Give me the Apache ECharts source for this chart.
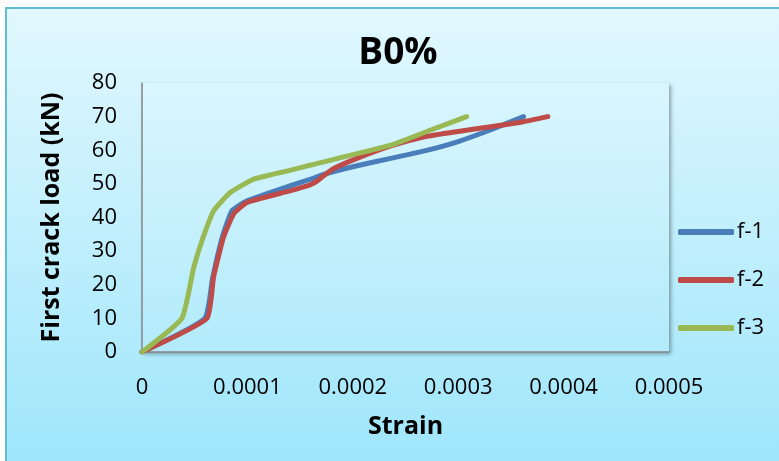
<!DOCTYPE html>
<html>
<head>
<meta charset="utf-8">
<script src="https://cdn.jsdelivr.net/npm/echarts@6/dist/echarts.min.js"></script>
<style>
  html, body { margin: 0; padding: 0; background: #ffffff; }
  #chart { width: 779px; height: 461px; }
</style>
</head>
<body>
<div id="chart"></div>
<script>
// Load (kN) against strain for the three B0% specimens
const seriesNames = ['f-1', 'f-2', 'f-3'];

const strainF1 = [0, 0.0000595, 0.0000670, 0.0000765, 0.0000854, 0.0000997, 0.000141, 0.000160, 0.000173, 0.000204, 0.000236, 0.000268, 0.000300, 0.000331, 0.000362];
const loadF1   = [0, 10,        22,        34.5,      42,        45,        49.5,     51.4,     52.9,     55.4,     57.6,     59.8,     62.6,     66.1,     70];

const strainF2 = [0, 0.0000616, 0.0000679, 0.0000774, 0.0000870, 0.0000997, 0.000141, 0.000160, 0.000166, 0.000173, 0.000182, 0.000204, 0.000236, 0.000268, 0.000300, 0.000331, 0.000362, 0.000385];
const loadF2   = [0, 10,        22.3,      34.2,      41.1,      44.5,      48,       49.8,     50.8,     52.6,     54.6,     57.6,     61.3,     64,       65.6,     67,       68.5,     70];

const strainF3 = [0, 0.0000378, 0.0000490, 0.0000568, 0.0000680, 0.0000840, 0.000106, 0.000141, 0.000160, 0.000236, 0.000272, 0.000308];
const loadF3   = [0, 10,        25,        33,        42,        47.5,      51.4,     54.1,     55.6,     61.5,     65.8,     70];

const xTicks = { min: 0, max: 0.0005, step: 0.0001 };
const yTicks = { min: 0, max: 80, step: 10 };

const lineColors = ['#4A7EBB', '#BE4B48', '#98B954'];

function pairs(xs, ys) {
  return xs.map((x, i) => [x, ys[i]]);
}

const seriesData = [pairs(strainF1, loadF1), pairs(strainF2, loadF2), pairs(strainF3, loadF3)];

const font = '"Open Sans", "Liberation Sans", sans-serif';

const chart = echarts.init(document.getElementById('chart'), null, { renderer: 'canvas' });

chart.setOption({
  backgroundColor: '#ffffff',
  animation: false,
  graphic: [
    {
      type: 'rect',
      z: -100,
      silent: true,
      shape: { x: 6, y: 8, width: 790, height: 470 },
      style: {
        fill: {
          type: 'linear', x: 0, y: 0, x2: 0, y2: 1,
          colorStops: [
            { offset: 0, color: '#E2F8FE' },
            { offset: 1, color: '#9CE5FB' }
          ]
        },
        stroke: '#5FBCD3',
        lineWidth: 2
      }
    }
  ],
  title: {
    text: 'B0%',
    left: 393,
    top: 30,
    textAlign: 'center',
    textStyle: { fontFamily: font, fontWeight: 'bold', fontSize: 37, color: '#000000' }
  },
  legend: {
    orient: 'vertical',
    left: 673,
    top: 216,
    itemWidth: 56,
    itemHeight: 6,
    itemGap: 26,
    icon: 'roundRect',
    data: seriesNames,
    textStyle: { fontFamily: font, fontSize: 22, color: '#000000', padding: [0, 0, 0, -2] }
  },
  grid: {
    left: 142,
    top: 83,
    right: 110,
    bottom: 109,
    show: true,
    borderWidth: 0,
    backgroundColor: {
      type: 'linear', x: 0, y: 0, x2: 0, y2: 1,
      colorStops: [
        { offset: 0, color: '#DAF6FE' },
        { offset: 1, color: '#B2EBFB' }
      ]
    },
    shadowColor: 'rgba(0, 0, 0, 0.35)',
    shadowBlur: 4,
    shadowOffsetX: 2,
    shadowOffsetY: 2
  },
  xAxis: {
    type: 'value',
    min: xTicks.min,
    max: xTicks.max,
    interval: xTicks.step,
    name: 'Strain',
    nameLocation: 'middle',
    nameGap: 62,
    nameTextStyle: { fontFamily: font, fontWeight: 'bold', fontSize: 25, color: '#000000' },
    axisLine: { show: true, lineStyle: { color: '#868686', width: 1.5 } },
    axisTick: { show: false },
    splitLine: { show: false },
    axisLabel: {
      margin: 25,
      fontFamily: font,
      fontSize: 22,
      color: '#000000',
      formatter: v => (v === 0 ? '0' : v.toFixed(4))
    }
  },
  yAxis: {
    type: 'value',
    min: yTicks.min,
    max: yTicks.max,
    interval: yTicks.step,
    name: 'First crack load (kN)',
    nameLocation: 'middle',
    nameGap: 78,
    nameTextStyle: { fontFamily: font, fontWeight: 'bold', fontSize: 25, color: '#000000' },
    axisLine: { show: true, lineStyle: { color: '#868686', width: 1.5 } },
    axisTick: { show: false },
    splitLine: { show: false },
    axisLabel: { margin: 25, fontFamily: font, fontSize: 22, color: '#000000' }
  },
  series: seriesNames.map((name, i) => ({
    name: name,
    type: 'line',
    data: seriesData[i],
    smooth: 0.15,
    showSymbol: false,
    symbol: 'none',
    color: lineColors[i],
    lineStyle: { width: 5, color: lineColors[i], cap: 'round', join: 'round' }
  }))
});
</script>
</body>
</html>
